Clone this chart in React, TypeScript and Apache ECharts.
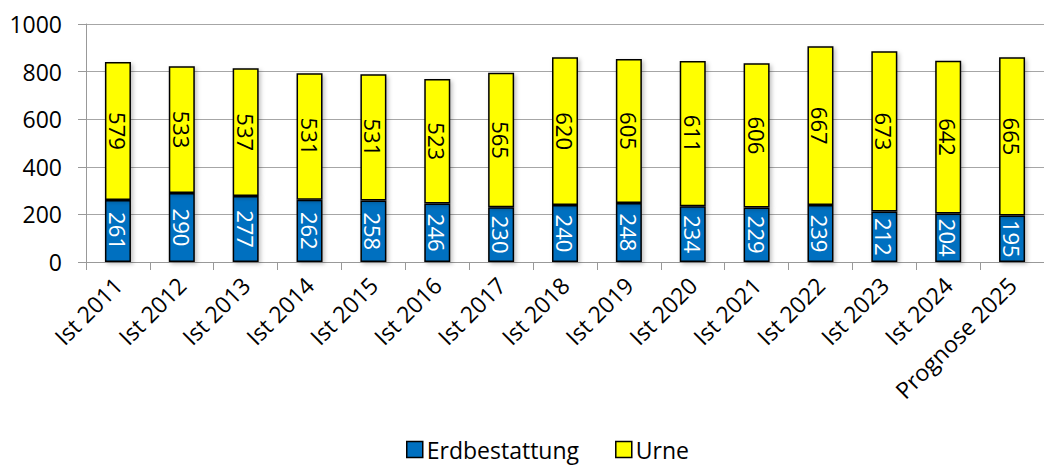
import React, { useEffect, useRef } from "react";
import * as echarts from "echarts";

const categories = ["Ist 2011", "Ist 2012", "Ist 2013", "Ist 2014", "Ist 2015", "Ist 2016", "Ist 2017", "Ist 2018", "Ist 2019", "Ist 2020", "Ist 2021", "Ist 2022", "Ist 2023", "Ist 2024", "Prognose 2025"];
const erdbestattung = [261, 290, 277, 262, 258, 246, 230, 240, 248, 234, 229, 239, 212, 204, 195];
const urne = [579, 533, 537, 531, 531, 523, 565, 620, 605, 611, 606, 667, 673, 642, 665];
const yTicks = { min: 0, max: 1000, interval: 200 };

const FONT = "'Open Sans', 'Noto Sans', sans-serif";

export default function App() {
  const ref = useRef<HTMLDivElement>(null);
  useEffect(() => {
    if (!ref.current) return;
    const chart = echarts.init(ref.current, null, { renderer: "svg" });
    const labelBase = {
      show: true,
      position: "inside",
      rotate: -90,
      fontSize: 22,
      fontFamily: FONT,
    };
    const shadow = {
      shadowColor: "rgba(0,0,0,0.25)",
      shadowBlur: 4,
      shadowOffsetX: 2,
      shadowOffsetY: 2,
    };
    chart.setOption({
      animation: false,
      grid: { left: 86, right: -9, top: 24, bottom: 207, containLabel: false },
      legend: {
        bottom: 3,
        left: 401,
        itemWidth: 16,
        itemHeight: 16,
        itemGap: 36,
        icon: "rect",
        textStyle: { fontSize: 23, fontFamily: FONT, color: "#000", padding: [0, 0, 0, -1] },
        itemStyle: { borderColor: "#000", borderWidth: 1.5 },
        data: ["Erdbestattung", "Urne"],
      },
      xAxis: {
        type: "category",
        data: categories,
        axisLine: { lineStyle: { color: "#999", width: 1 } },
        axisTick: { show: true, length: 8, lineStyle: { color: "#999" } },
        axisLabel: {
          rotate: 45,
          fontSize: 23,
          fontFamily: FONT,
          color: "#000",
          margin: 19,
          interval: 0,
        },
      },
      yAxis: {
        type: "value",
        min: yTicks.min,
        max: yTicks.max,
        interval: yTicks.interval,
        axisLine: { show: true, lineStyle: { color: "#999", width: 1 } },
        axisTick: { show: true, length: 8, lineStyle: { color: "#999" } },
        splitLine: { lineStyle: { color: "#a6a6a6", width: 1 } },
        axisLabel: { fontSize: 23, fontFamily: FONT, color: "#000", margin: 24, formatter: (v: number) => String(v) },
      },
      series: [
        {
          name: "Erdbestattung",
          type: "bar",
          stack: "total",
          barWidth: 26,
          data: erdbestattung,
          itemStyle: { color: "#0070C0", borderColor: "#000", borderWidth: 1.5, ...shadow },
          label: { ...labelBase, color: "#fff" },
        },
        {
          name: "Urne",
          type: "bar",
          stack: "total",
          barWidth: 26,
          data: urne,
          itemStyle: { color: "#FFFF00", borderColor: "#000", borderWidth: 1.5, ...shadow },
          label: { ...labelBase, color: "#000" },
        },
      ],
    });
    return () => chart.dispose();
  }, []);
  return (
    <div
      ref={ref}
      style={{ position: "absolute", left: 0, top: 0, width: 1044, height: 469, background: "#fff" }}
    />
  );
}
